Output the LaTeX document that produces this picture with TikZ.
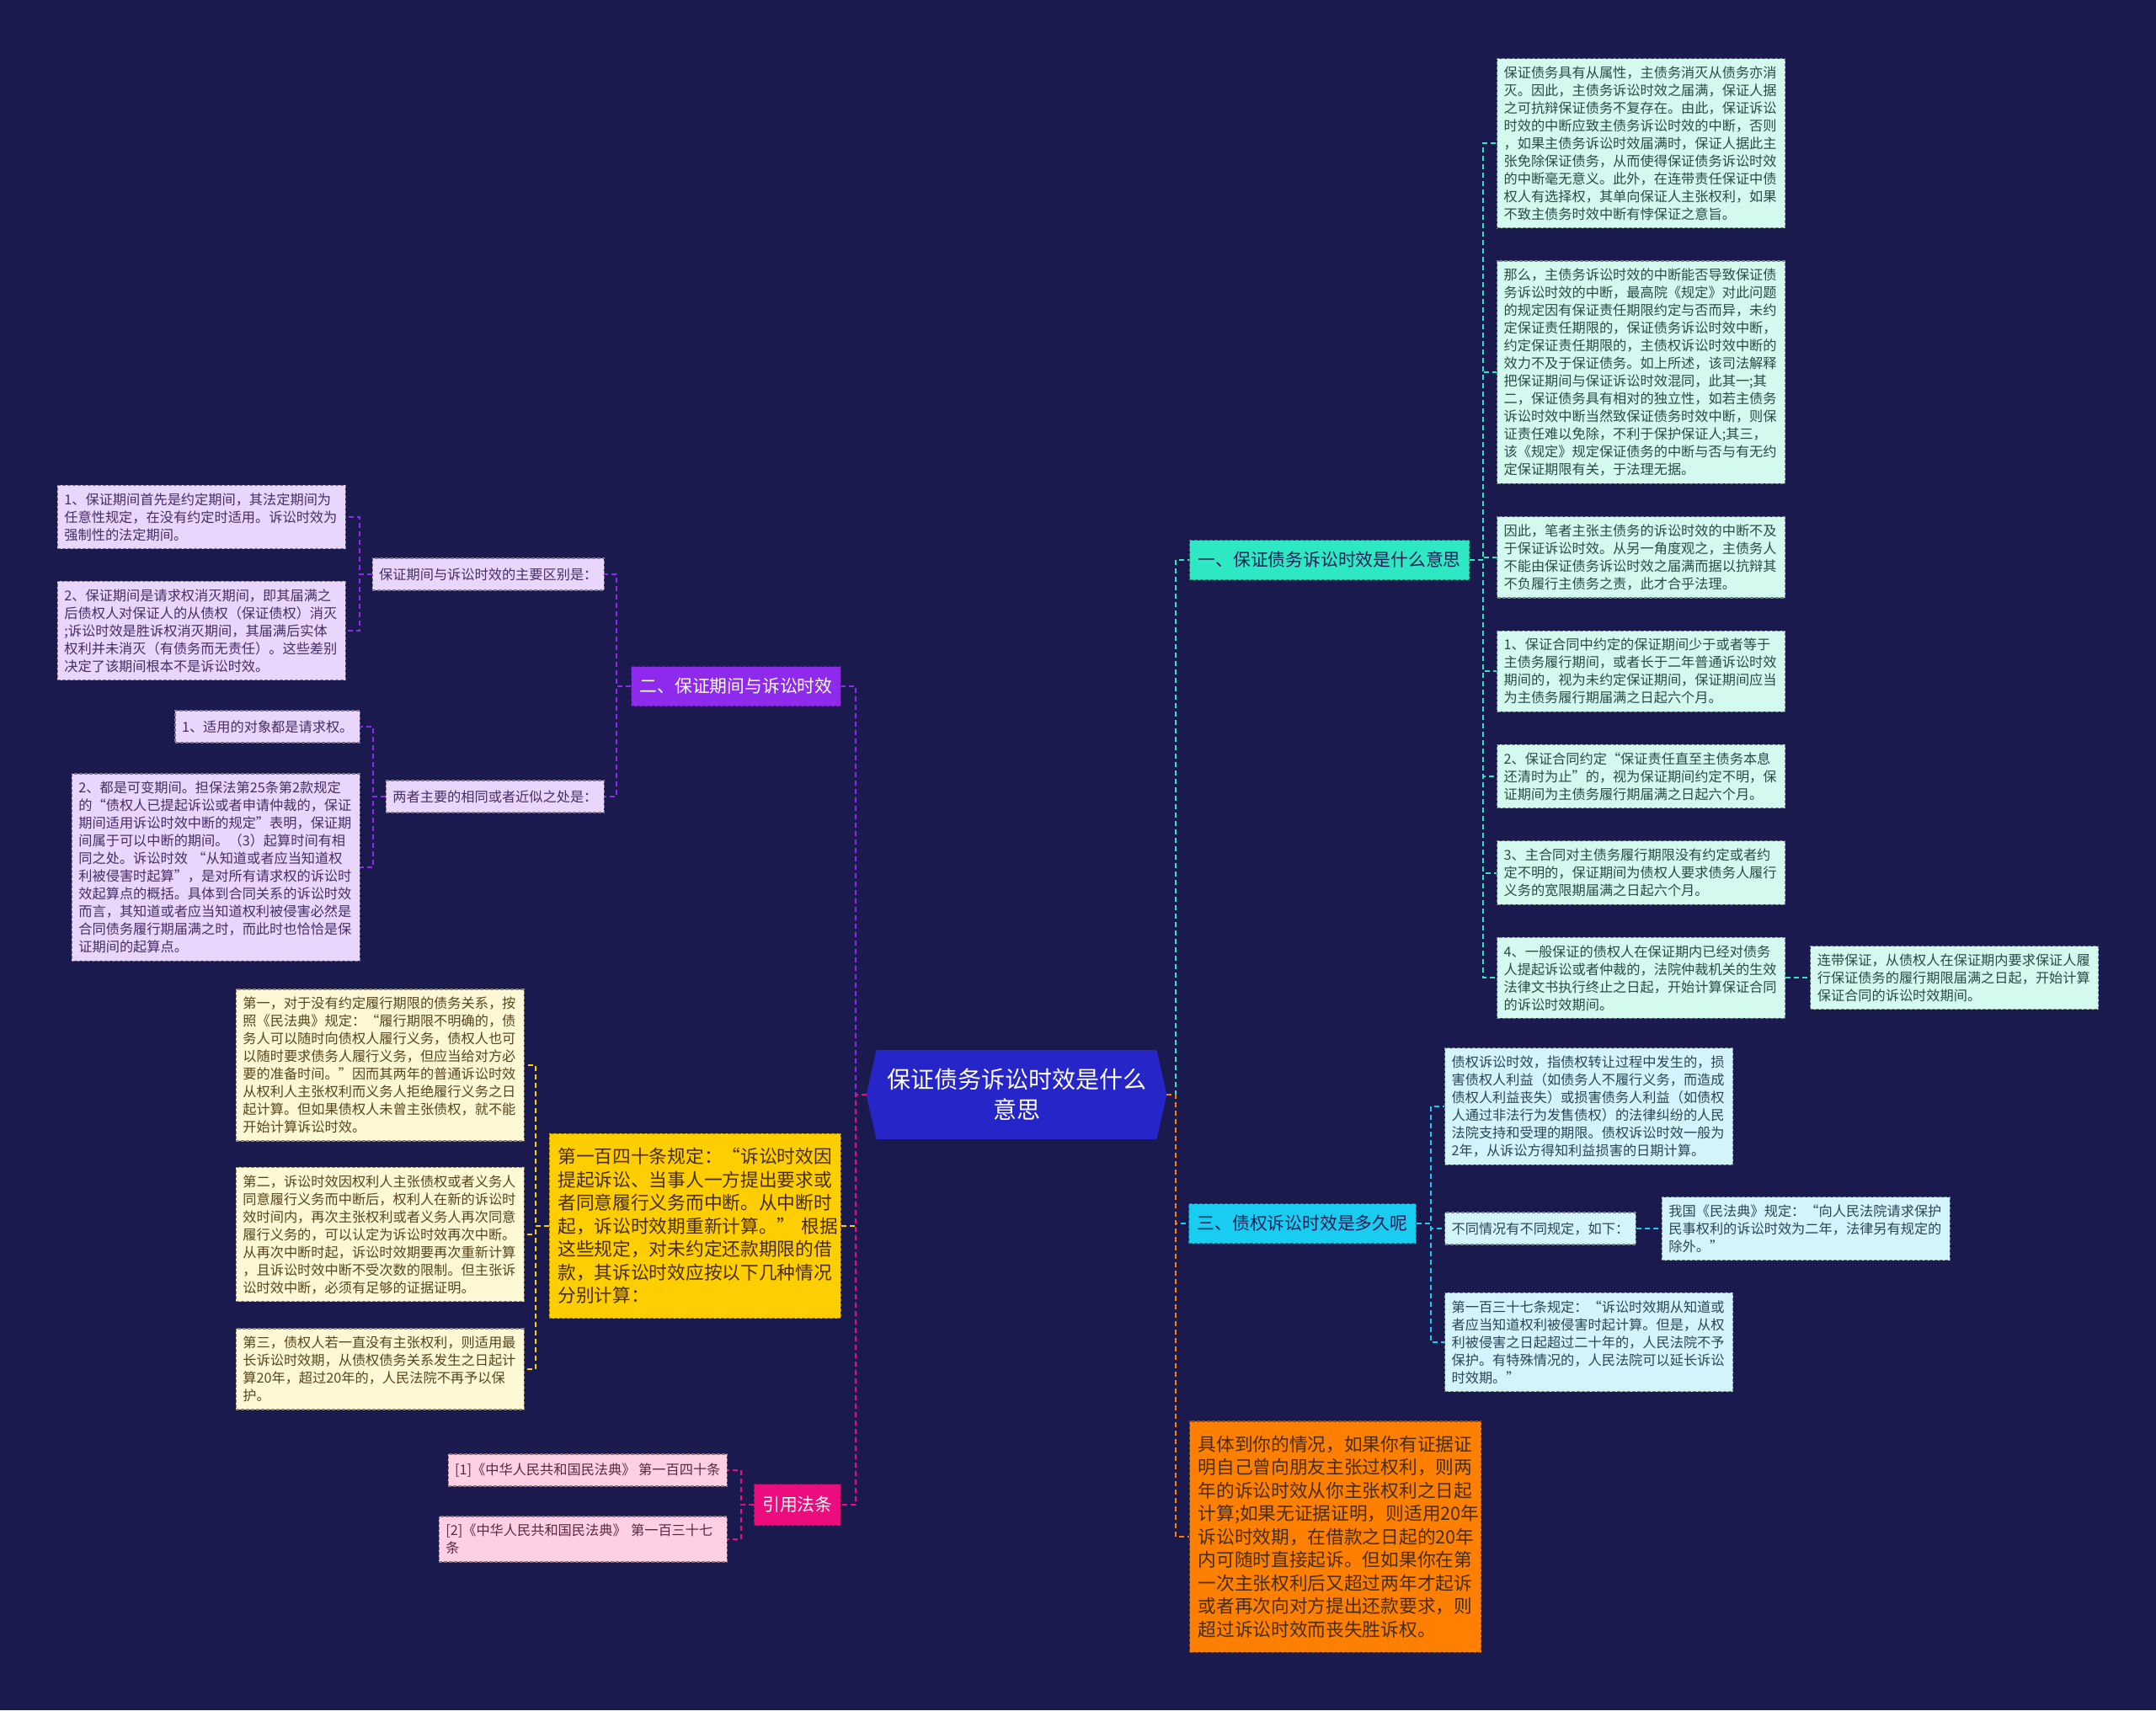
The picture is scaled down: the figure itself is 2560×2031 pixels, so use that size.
\documentclass[tikz,border=0pt]{standalone}
\usepackage{fontspec}
\setmainfont{Noto Sans CJK SC}
\usetikzlibrary{positioning,backgrounds,calc}
\definecolor{bgclr}{RGB}{27,26,79}
\definecolor{rootclr}{RGB}{38,38,200}
\definecolor{tealclr}{RGB}{45,232,195}
\definecolor{purpclr}{RGB}{142,42,235}
\definecolor{cyanclr}{RGB}{24,205,240}
\definecolor{goldclr}{RGB}{255,206,0}
\definecolor{pinkclr}{RGB}{236,12,125}
\definecolor{orgclr}{RGB}{255,128,0}
\definecolor{tealbg}{RGB}{212,250,240}
\definecolor{purpbg}{RGB}{232,214,252}
\definecolor{cyanbg}{RGB}{212,244,252}
\definecolor{goldbg}{RGB}{255,248,212}
\definecolor{pinkbg}{RGB}{255,208,228}
\definecolor{tealtxt}{RGB}{40,75,70}
\definecolor{purptxt}{RGB}{70,45,100}
\definecolor{cyantxt}{RGB}{40,70,85}
\definecolor{goldtxt}{RGB}{85,70,30}
\definecolor{pinktxt}{RGB}{90,40,65}
\definecolor{darktxt}{RGB}{30,30,85}
\definecolor{bigtxt}{RGB}{70,45,15}
\tikzset{
  base/.style={rectangle,inner xsep=4pt,inner ysep=4.5pt,line width=0.6pt,
    dash pattern=on 2pt off 1pt,align=left},
  leaf/.style={base,fill=#1bg,draw=#1bg!55!black,text=#1txt,text width=163pt,
    font=\fontsize{8.1pt}{10.5pt}\selectfont},
  sleaf/.style={base,fill=#1bg,draw=#1bg!55!black,text=#1txt,minimum height=19pt,
    font=\fontsize{8.1pt}{10.5pt}\selectfont},
  head/.style={base,fill=#1clr,draw=#1clr!60!black,inner xsep=5pt,
    minimum height=23.5pt,font=\fontsize{10.4pt}{12pt}\selectfont},
  big/.style={base,fill=#1clr,draw=#1clr!60!black,text=bigtxt,text width=163pt,
    inner xsep=5pt,inner ysep=8.5pt,font=\fontsize{10.85pt}{13.75pt}\selectfont},
  rootnd/.style={rectangle,minimum width=166pt,minimum height=52.5pt,
    align=center,text=white,font=\fontsize{14pt}{18pt}\selectfont},
  lk/.style={draw=#1,line width=1pt,dash pattern=on 3pt off 2pt},
}

\begin{document}
\begin{tikzpicture}[x=0.5pt,y=-0.5pt,node distance=19pt]

  \useasboundingbox (0,0) rectangle (2560,2031);

  \node[rootnd] (root) at (1207,1300) {保证债务诉讼时效是什么\\意思};

  \begin{scope}[on background layer]
    \fill[bgclr] (0,0) rectangle (2560,2031);
    \fill[rootclr] (root.north west) -- (root.north east) -- ([xshift=6pt]root.east)
      -- (root.south east) -- (root.south west) -- ([xshift=-6pt]root.west) -- cycle;
  \end{scope}
  \coordinate (rootR) at ([xshift=6pt]root.east);
  \coordinate (rootL) at ([xshift=-6pt]root.west);

  % main branches
  \node[head=teal,text=darktxt,anchor=west] (q1) at (1412,665) {一、保证债务诉讼时效是什么意思};
  \node[head=cyan,text=darktxt,anchor=west] (q3) at (1411,1453) {三、债权诉讼时效是多久呢};
  \node[big=org,anchor=west] (adv) at (1412,1825)
    {具体到你的情况，如果你有证据证\\明自己曾向朋友主张过权利，则两\\年的诉讼时效从你主张权利之日起\\计算;如果无证据证明，则适用20年\\诉讼时效期，在借款之日起的20年\\内可随时直接起诉。但如果你在第\\一次主张权利后又超过两年才起诉\\或者再次向对方提出还款要求，则\\超过诉讼时效而丧失胜诉权。};
  \node[head=purp,text=white,anchor=east] (q2) at (999,815) {二、保证期间与诉讼时效};
  \node[big=gold,anchor=east] (rule) at (999,1456)
    {第一百四十条规定：“诉讼时效因\\提起诉讼、当事人一方提出要求或\\者同意履行义务而中断。从中断时\\起，诉讼时效期重新计算。”~根据\\这些规定，对未约定还款期限的借\\款，其诉讼时效应按以下几种情况\\分别计算：};
  \node[head=pink,text=white,anchor=east,minimum height=24.5pt] (cite) at (999,1787) {引用法条};

  % branch one
  \node[leaf=teal,anchor=north west] (a1) at (1777,69)
    {保证债务具有从属性，主债务消灭从债务亦消\\灭。因此，主债务诉讼时效之届满，保证人据\\之可抗辩保证债务不复存在。由此，保证诉讼\\时效的中断应致主债务诉讼时效的中断，否则\\，如果主债务诉讼时效届满时，保证人据此主\\张免除保证债务，从而使得保证债务诉讼时效\\的中断毫无意义。此外，在连带责任保证中债\\权人有选择权，其单向保证人主张权利，如果\\不致主债务时效中断有悖保证之意旨。};
  \node[leaf=teal,below=of a1] (a2)
    {那么，主债务诉讼时效的中断能否导致保证债\\务诉讼时效的中断，最高院《规定》对此问题\\的规定因有保证责任期限约定与否而异，未约\\定保证责任期限的，保证债务诉讼时效中断，\\约定保证责任期限的，主债权诉讼时效中断的\\效力不及于保证债务。如上所述，该司法解释\\把保证期间与保证诉讼时效混同，此其一;其\\二，保证债务具有相对的独立性，如若主债务\\诉讼时效中断当然致保证债务时效中断，则保\\证责任难以免除，不利于保护保证人;其三，\\该《规定》规定保证债务的中断与否与有无约\\定保证期限有关，于法理无据。};
  \node[leaf=teal,below=of a2] (a3)
    {因此，笔者主张主债务的诉讼时效的中断不及\\于保证诉讼时效。从另一角度观之，主债务人\\不能由保证债务诉讼时效之届满而据以抗辩其\\不负履行主债务之责，此才合乎法理。};
  \node[leaf=teal,below=of a3] (a4)
    {1、保证合同中约定的保证期间少于或者等于\\主债务履行期间，或者长于二年普通诉讼时效\\期间的，视为未约定保证期间，保证期间应当\\为主债务履行期届满之日起六个月。};
  \node[leaf=teal,below=of a4] (a5)
    {2、保证合同约定“保证责任直至主债务本息\\还清时为止”的，视为保证期间约定不明，保\\证期间为主债务履行期届满之日起六个月。};
  \node[leaf=teal,below=of a5] (a6)
    {3、主合同对主债务履行期限没有约定或者约\\定不明的，保证期间为债权人要求债务人履行\\义务的宽限期届满之日起六个月。};
  \node[leaf=teal,below=of a6] (a7)
    {4、一般保证的债权人在保证期内已经对债务\\人提起诉讼或者仲裁的，法院仲裁机关的生效\\法律文书执行终止之日起，开始计算保证合同\\的诉讼时效期间。};
  \node[leaf=teal,right=14.5pt of a7] (a8)
    {连带保证，从债权人在保证期内要求保证人履\\行保证债务的履行期限届满之日起，开始计算\\保证合同的诉讼时效期间。};

  % branch three
  \node[leaf=cyan,anchor=west] (e1) at (1715,1314)
    {债权诉讼时效，指债权转让过程中发生的，损\\害债权人利益（如债务人不履行义务，而造成\\债权人利益丧失）或损害债务人利益（如债权\\人通过非法行为发售债权）的法律纠纷的人民\\法院支持和受理的期限。债权诉讼时效一般为\\2年，从诉讼方得知利益损害的日期计算。};
  \node[sleaf=cyan,anchor=west] (e2) at (1715,1459) {不同情况有不同规定，如下：};
  \node[leaf=cyan,right=15pt of e2] (e2a)
    {我国《民法典》规定：“向人民法院请求保护\\民事权利的诉讼时效为二年，法律另有规定的\\除外。”};
  \node[leaf=cyan,anchor=west] (e3) at (1715,1594)
    {第一百三十七条规定：“诉讼时效期从知道或\\者应当知道权利被侵害时起计算。但是，从权\\利被侵害之日起超过二十年的，人民法院不予\\保护。有特殊情况的，人民法院可以延长诉讼\\时效期。”};

  % branch two
  \node[sleaf=purp,anchor=east] (d1) at (718,682) {保证期间与诉讼时效的主要区别是：};
  \node[leaf=purp,anchor=east] (d1a) at (411,614)
    {1、保证期间首先是约定期间，其法定期间为\\任意性规定，在没有约定时适用。诉讼时效为\\强制性的法定期间。};
  \node[leaf=purp,anchor=east] (d1b) at (411,749)
    {2、保证期间是请求权消灭期间，即其届满之\\后债权人对保证人的从债权（保证债权）消灭\\;诉讼时效是胜诉权消灭期间，其届满后实体\\权利并未消灭（有债务而无责任）。这些差别\\决定了该期间根本不是诉讼时效。};
  \node[sleaf=purp,anchor=east] (d2) at (718,946) {两者主要的相同或者近似之处是：};
  \node[sleaf=purp,anchor=east] (d2a) at (428,863) {1、适用的对象都是请求权。};
  \node[leaf=purp,anchor=east] (d2b) at (428,1030)
    {2、都是可变期间。担保法第25条第2款规定\\的“债权人已提起诉讼或者申请仲裁的，保证\\期间适用诉讼时效中断的规定”表明，保证期\\间属于可以中断的期间。（3）起算时间有相\\同之处。诉讼时效 “从知道或者应当知道权\\利被侵害时起算”，是对所有请求权的诉讼时\\效起算点的概括。具体到合同关系的诉讼时效\\而言，其知道或者应当知道权利被侵害必然是\\合同债务履行期届满之时，而此时也恰恰是保\\证期间的起算点。};

  % the 140th article
  \node[leaf=gold,anchor=east] (g1) at (623,1265)
    {第一，对于没有约定履行期限的债务关系，按\\照《民法典》规定：“履行期限不明确的，债\\务人可以随时向债权人履行义务，债权人也可\\以随时要求债务人履行义务，但应当给对方必\\要的准备时间。”因而其两年的普通诉讼时效\\从权利人主张权利而义务人拒绝履行义务之日\\起计算。但如果债权人未曾主张债权，就不能\\开始计算诉讼时效。};
  \node[leaf=gold,anchor=east] (g2) at (623,1466)
    {第二，诉讼时效因权利人主张债权或者义务人\\同意履行义务而中断后，权利人在新的诉讼时\\效时间内，再次主张权利或者义务人再次同意\\履行义务的，可以认定为诉讼时效再次中断。\\从再次中断时起，诉讼时效期要再次重新计算\\，且诉讼时效中断不受次数的限制。但主张诉\\讼时效中断，必须有足够的证据证明。};
  \node[leaf=gold,anchor=east] (g3) at (623,1626)
    {第三，债权人若一直没有主张权利，则适用最\\长诉讼时效期，从债权债务关系发生之日起计\\算20年，超过20年的，人民法院不再予以保\\护。};

  % cited articles
  \node[sleaf=pink,anchor=east] (p1) at (864,1746) {[1]《中华人民共和国民法典》 第一百四十条};
  \node[leaf=pink,anchor=east] (p2) at (864,1828) {[2]《中华人民共和国民法典》 第一百三十七\\条};

  % connectors
  \draw[lk=tealclr] (rootR) -- ++(11,0) |- (q1.west);
  \draw[lk=cyanclr] (rootR) -- ++(11,0) |- (q3.west);
  \draw[lk=orgclr] (rootR) -- ++(11,0) |- (adv.west);
  \draw[lk=purpclr] (rootL) -- ++(-13,0) |- (q2.east);
  \draw[lk=goldclr] (rootL) -- ++(-13,0) |- (rule.east);
  \draw[lk=pinkclr] (rootL) -- ++(-13,0) |- (cite.east);

  \foreach \c in {a1,a2,a3,a4,a5,a6,a7}
    \draw[lk=tealclr] (q1.east) -- ++(16,0) |- (\c.west);
  \draw[lk=tealclr] (a7.east) -- (a8.west);
  \foreach \c in {e1,e2,e3}
    \draw[lk=cyanclr] (q3.east) -- ++(17,0) |- (\c.west);
  \draw[lk=cyanclr] (e2.east) -- (e2a.west);
  \foreach \c in {d1,d2}
    \draw[lk=purpclr] (q2.west) -- ++(-17,0) |- (\c.east);
  \foreach \c in {d1a,d1b}
    \draw[lk=purpclr] (d1.west) -- ++(-15,0) |- (\c.east);
  \foreach \c in {d2a,d2b}
    \draw[lk=purpclr] (d2.west) -- ++(-15,0) |- (\c.east);
  \foreach \c in {g1,g2,g3}
    \draw[lk=goldclr] (rule.west) -- ++(-16,0) |- (\c.east);
  \foreach \c in {p1,p2}
    \draw[lk=pinkclr] (cite.west) -- ++(-15,0) |- (\c.east);

\end{tikzpicture}
\end{document}
